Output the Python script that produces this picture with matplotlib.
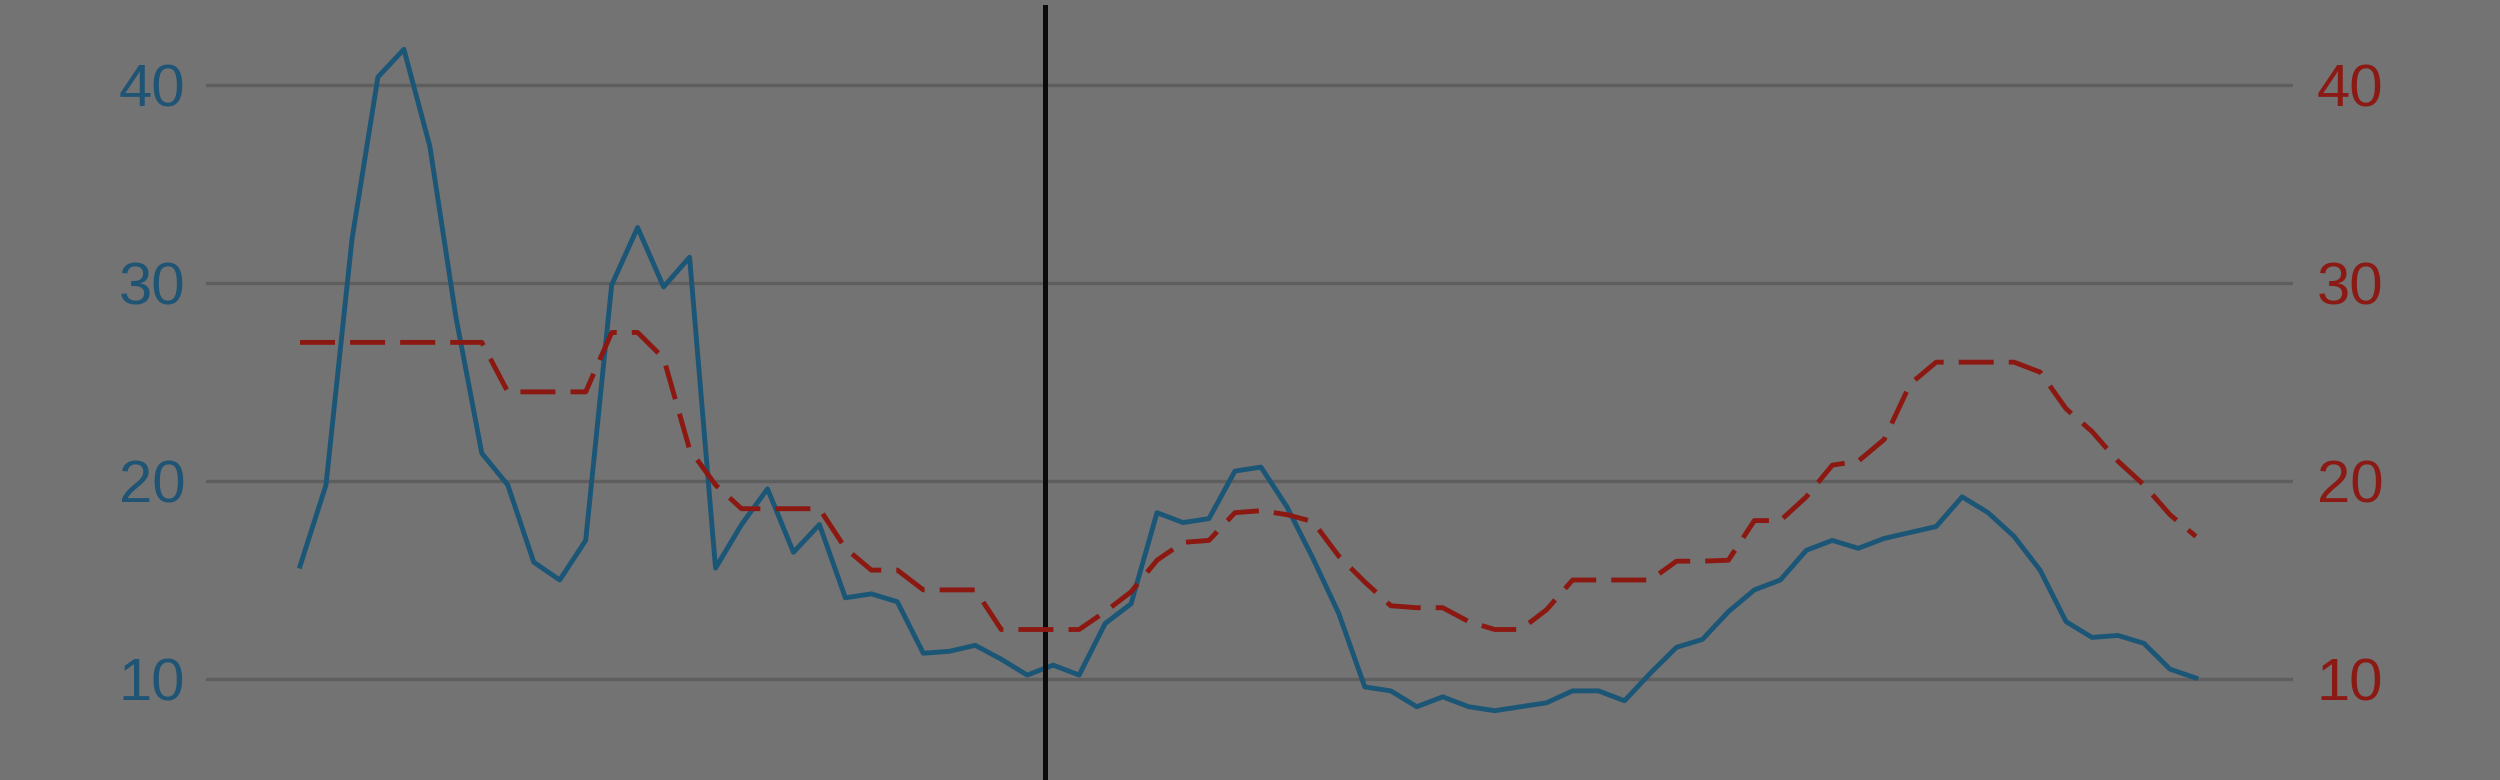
import matplotlib
matplotlib.use("Agg")
import matplotlib.pyplot as plt

# blue series (left axis), one value per period
blue_vals = [15.7, 19.8, 32.2, 40.4, 41.8, 36.9, 28.3, 21.4, 19.8, 15.9,
             15.0, 17.0, 29.9, 32.8, 29.8, 31.3, 15.6, 17.8, 19.6, 16.4,
             17.8, 14.1, 14.3, 13.9, 11.3, 11.4, 11.7, 11.0, 10.2, 10.7,
             10.2, 12.8, 13.8, 18.4, 17.9, 18.1, 20.5, 20.7, 18.7, 16.1,
             13.3, 9.6, 9.4, 8.6, 9.1, 8.6, 8.4, 8.6, 8.8, 9.4,
             9.4, 8.9, 10.3, 11.6, 12.0, 13.4, 14.5, 15.0, 16.5, 17.0,
             16.6, 17.1, 17.4, 17.7, 19.2, 18.4, 17.2, 15.5, 12.9, 12.1,
             12.2, 11.8, 10.5, 10.05]

# red dashed series (right axis)
red_vals = [27.0, 27.0, 27.0, 27.0, 27.0, 27.0, 27.0, 27.0, 24.5, 24.5,
            24.5, 24.5, 27.5, 27.5, 26.2, 21.6, 19.8, 18.6, 18.6, 18.6,
            18.6, 16.6, 15.5, 15.5, 14.5, 14.5, 14.5, 12.5, 12.5, 12.5,
            12.5, 13.4, 14.4, 16.0, 16.9, 17.0, 18.4, 18.5, 18.3, 17.95,
            16.2, 14.9, 13.7, 13.6, 13.6, 12.9, 12.5, 12.5, 13.5, 15.0,
            15.0, 15.0, 15.0, 15.95, 15.95, 16.0, 18.0, 18.0, 19.2, 20.8,
            21.0, 22.1, 24.9, 26.0, 26.0, 26.0, 26.0, 25.5, 23.65, 22.5,
            21.0, 19.8, 18.3, 17.2]

marker_pos = 28.67
yticks = [10, 20, 30, 40]

bg = '#737373'
blue = '#1b5677'
red = '#8c1812'

fig = plt.figure(figsize=(25, 7.8), dpi=100, facecolor=bg)
ax = fig.add_axes([206/2500, 0, (2293-206)/2500, 1])
ax.set_facecolor(bg)

x = list(range(len(blue_vals)))
ax.plot(x, blue_vals, color=blue, lw=3.5, zorder=3)

ax2 = ax.twinx()
ax2.plot(list(range(len(red_vals))), red_vals, color=red, lw=3.5,
         linestyle=(0, (7.2, 3.1)), zorder=3)

ax.axvline(marker_pos, ymin=0, ymax=1 - 7/780, color='#0a0a0a', lw=3.6, zorder=4)

for a in (ax, ax2):
    a.set_xlim(-3.62, 76.74)
    a.set_ylim(4.9, 44.29)
    a.set_yticks(yticks)
    for s in a.spines.values():
        s.set_visible(False)
    a.tick_params(length=0)
    a.set_xticks([])

ax.yaxis.grid(True, color='#5e5e5e', lw=2.4)
ax.set_axisbelow(True)

ax.tick_params(axis='y', labelsize=43, labelcolor='#1f5475', pad=15)
ax2.tick_params(axis='y', labelsize=43, labelcolor='#8b1a14', pad=17)
for lab in ax.get_yticklabels() + ax2.get_yticklabels():
    lab.set_family(['Liberation Sans', 'DejaVu Sans'])

fig.savefig('out.png', dpi=100, facecolor=bg)
